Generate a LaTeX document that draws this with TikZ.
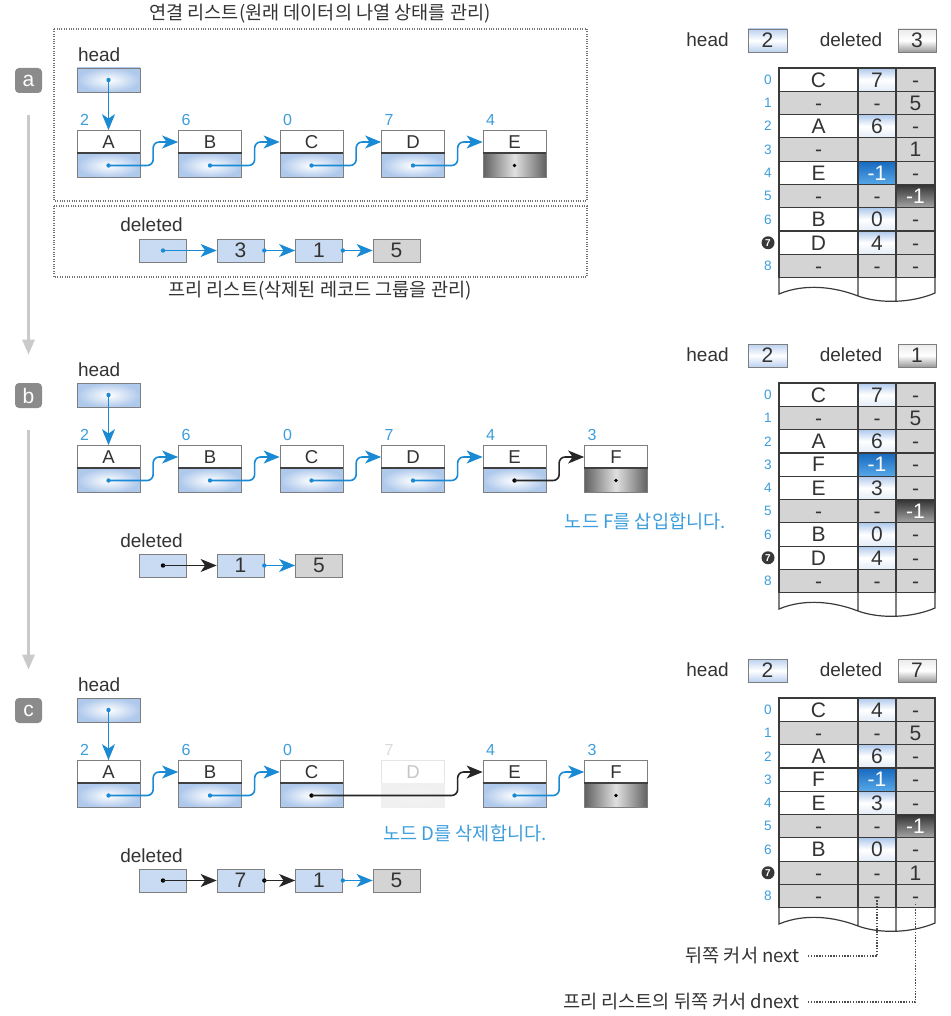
\documentclass[tikz,border=0pt]{standalone}
\usepackage{fontspec}
\setmainfont{Liberation Sans}
\newfontfamily\krfont{Noto Sans CJK KR}
\usetikzlibrary{calc,arrows.meta}

\definecolor{linkblue}{HTML}{1A8AD4}
\definecolor{idxblue}{HTML}{3C9DDC}
\definecolor{edgegray}{HTML}{7E7E7E}
\definecolor{cellgray}{HTML}{D4D4D4}
\definecolor{ptrblue}{HTML}{AFC9EC}
\definecolor{listblue}{HTML}{C9DBF2}
\definecolor{flowgray}{HTML}{CACACA}
\definecolor{tabline}{HTML}{3A3A3A}
\definecolor{hotblue}{HTML}{1769BF}
\definecolor{hotblue2}{HTML}{56A8E8}
\definecolor{lblgray}{HTML}{8B8B8B}

\tikzset{
  steplabel/.style={fill=lblgray,rounded corners=2pt,minimum width=13.5pt,minimum height=12.5pt,inner sep=0pt,text=white,font=\fontsize{10.5}{10.5}\selectfont},
  stepflow/.style={draw=flowgray,line width=1.5pt,-{Triangle[length=7.5pt,width=6pt]},shorten <=11pt,shorten >=14pt},
  frame/.style={draw=black!55,line width=.6pt,dash pattern=on .5pt off .7pt},
  krtext/.style={font=\krfont\fontsize{9.3}{10}\selectfont,inner sep=0pt,text=black!80},
  bluetext/.style={krtext,text=idxblue},
  lbl/.style={inner sep=0pt,text=black!80,font=\fontsize{9.5}{10}\selectfont},
  idx/.style={inner sep=0pt,anchor=south west,text=idxblue,font=\fontsize{8}{8}\selectfont},
  datacell/.style={draw=edgegray,fill=white,minimum width=31.5pt,minimum height=11.5pt,inner sep=0pt,text=black!80,font=\fontsize{9.3}{9.3}\selectfont},
  ptrcell/.style={draw=edgegray,inner color=white,outer color=ptrblue,minimum width=31.5pt,minimum height=12pt,inner sep=0pt},
  endcell/.style={draw=edgegray,left color=black!62,right color=black!62,middle color=black!12,minimum width=31.5pt,minimum height=12pt,inner sep=0pt},
  ghostcell/.style={datacell,draw=black!10,text=black!22},
  ghostptr/.style={ptrcell,draw=black!6,inner color=black!5,outer color=black!6},
  divider/.style={draw=black!75,line width=.7pt},
  link/.style={draw=linkblue,line width=.8pt,rounded corners=3pt,-{Stealth[length=8pt,width=6.5pt,inset=2.2pt]}},
  newlink/.style={link,draw=black!85},
  delbox/.style={draw=edgegray,fill=listblue,minimum width=23.5pt,minimum height=11.5pt,inner sep=0pt,text=black!80,font=\fontsize{10.5}{10.5}\selectfont},
  delend/.style={delbox,fill=cellgray},
  hdhead/.style={delbox,minimum width=19.5pt,top color=ptrblue!85,bottom color=ptrblue!85,middle color=white},
  hddel/.style={delbox,minimum width=19pt,top color=black!8,bottom color=black!40,middle color=white},
  tcell/.style={draw=tabline,line width=.6pt,minimum height=11.65pt,inner sep=0pt,text height=7.4pt,text depth=0pt,text=black!80,font=\fontsize{10.5}{10.5}\selectfont},
  col0/.style={tcell,minimum width=39.5pt},
  col1/.style={tcell,minimum width=19pt},
  col2/.style={tcell,minimum width=19.5pt},
  nmu/.style={fill=white}, nme/.style={fill=white},
  nmd/.style={fill=cellgray}, nmf/.style={fill=cellgray},
  nxu/.style={top color=ptrblue,bottom color=ptrblue!35,middle color=white},
  nxe/.style={top color=hotblue,bottom color=hotblue2,text=white},
  nxd/.style={fill=cellgray}, nxf/.style={fill=cellgray},
  dnu/.style={fill=cellgray}, dne/.style={fill=cellgray}, dnd/.style={fill=cellgray},
  dnf/.style={top color=black!80,bottom color=black!35,text=white},
  rowno/.style={inner sep=0pt,text=idxblue,font=\fontsize{6.8}{6.8}\selectfont},
  rowmark/.style={circle,fill=black!78,inner sep=0pt,minimum size=6.5pt,text=white,font=\bfseries\fontsize{5}{5}\selectfont},
  note/.style={draw=black!70,line width=.9pt,dash pattern=on .7pt off .7pt}
}

\begin{document}
\begin{tikzpicture}[x=0.5pt,y=-0.5pt,line width=.35pt]
\useasboundingbox (0,0) rectangle (950,1016);

% step marks
\node[steplabel] (alabel) at (28.5,80.5) {a};
\node[steplabel] (blabel) at (28.5,395.5) {b};
\node[steplabel] (clabel) at (28.5,710.5) {c};
\draw[stepflow] (alabel) -- (blabel);
\draw[stepflow] (blabel) -- (clabel);

% ---------- a
\begin{scope}
\draw[frame] (54,29) rectangle (587,201);
\draw[frame] (54,206) rectangle (587,277);
\node[krtext] (atitle) at (320,14) {연결 리스트(원래 데이터의 나열 상태를 관리)};
\node[krtext] (afoot) at (320,291) {프리 리스트(삭제된 레코드 그룹을 관리)};
\node[ptrcell] (ahead) at (108.5,80) {};
\node[lbl,anchor=base west] at ($(ahead.north west)+(1,-6)$) {head};
\foreach \n/\x/\i in {A/108.5/2,B/210/6,C/311.5/0,D/413/7,E/514.5/4}{
  \node[datacell] (a\n) at (\x,142) {\n};
  \node[idx] at ($(a\n.north west)+(3,-4)$) {\i};
}
\foreach \n in {A,B,C,D} \node[ptrcell] (a\n p) at ($(a\n)+(0,23.5)$) {};
\node[endcell] (aEp) at ($(aE)+(0,23.5)$) {};
\foreach \n in {A,B,C,D,E} \draw[divider] (a\n p.north west) -- (a\n p.north east);
\fill[linkblue] (ahead) circle (1.1pt);
\draw[link] (ahead.center) -- (aA.north);
\foreach \s/\t in {A/B,B/C,C/D,D/E}{
  \fill[linkblue] (a\s p) circle (1.1pt);
  \draw[link] (a\s p.center) -| ($(a\t.west)+(-25,0)$) -- (a\t.west);
}
\fill[black] (aEp) circle (.9pt);
% free list
\node[lbl,anchor=base west] at (120,232) {deleted};
\node[delbox] (adel) at (163,250.5) {};
\foreach \n/\x in {3/240.5,1/319} \node[delbox] (ad\n) at (\x,250.5) {\n};
\node[delend] (ad5) at (396.5,250.5) {5};
\fill[linkblue] (adel) circle (1.1pt);
\draw[link] (adel.center) -- (ad3.west);
\foreach \s/\t in {3/1,1/5}{
  \fill[linkblue] (ad\s.east) circle (1.1pt);
  \draw[link] (ad\s.east) -- (ad\t.west);
}
% table
\node[lbl] at (707.5,40) {head};
\node[hdhead] (athead) at (767.5,40.5) {2};
\node[lbl] at (851,40) {deleted};
\node[hddel] (atdel) at (917,40.5) {3};
\foreach \r/\nm/\nx/\dn/\k in {0/C/7/-/u,1/-/-/5/d,2/A/6/-/u,3/-//1/d,4/E/-1/-/e,5/-/-/-1/f,6/B/0/-/u,7/D/4/-/u,8/-/-/-/d}{
  \node[col0,nm\k] (a\r nm) at (818.5,{79.65+23.3*\r}) {\nm};
  \node[col1,nx\k] (a\r nx) at (877,{79.65+23.3*\r}) {\nx};
  \node[col2,dn\k] (a\r dn) at (915.5,{79.65+23.3*\r}) {\dn};
}
\foreach \r in {0,...,6,8} \node[rowno] at (768,{79.65+23.3*\r}) {\r};
\node[rowmark] at (768,{79.65+23.3*7}) {7};
\draw[tabline,line width=.6pt] (779,277.7) -- (779,294) .. controls (805,283) and (835,287) .. (858,296) .. controls (880,304) and (912,303) .. (935,293) -- (935,277.7) (858,277.7) -- (858,296) (896,277.7) -- (896,301.5);
\end{scope}

% ---------- b
\begin{scope}[shift={(0,315)}]
\node[ptrcell] (bhead) at (108.5,80) {};
\node[lbl,anchor=base west] at ($(bhead.north west)+(1,-6)$) {head};
\foreach \n/\x/\i in {A/108.5/2,B/210/6,C/311.5/0,D/413/7,E/514.5/4,F/616/3}{
  \node[datacell] (b\n) at (\x,142) {\n};
  \node[idx] at ($(b\n.north west)+(3,-4)$) {\i};
}
\foreach \n in {A,B,C,D,E} \node[ptrcell] (b\n p) at ($(b\n)+(0,23.5)$) {};
\node[endcell] (bFp) at ($(bF)+(0,23.5)$) {};
\foreach \n in {A,B,C,D,E,F} \draw[divider] (b\n p.north west) -- (b\n p.north east);
\fill[linkblue] (bhead) circle (1.1pt);
\draw[link] (bhead.center) -- (bA.north);
\foreach \s/\t in {A/B,B/C,C/D,D/E}{
  \fill[linkblue] (b\s p) circle (1.1pt);
  \draw[link] (b\s p.center) -| ($(b\t.west)+(-25,0)$) -- (b\t.west);
}
\fill[black] (bEp) circle (1.1pt);
\draw[newlink] (bEp.center) -| ($(bF.west)+(-25,0)$) -- (bF.west);
\fill[black] (bFp) circle (.9pt);
\node[bluetext,anchor=east] (bnote) at (726,206) {노드 F를 삽입합니다.};
% free list
\node[lbl,anchor=base west] at (120,232) {deleted};
\node[delbox] (bdel) at (163,250.5) {};
\node[delbox] (bd1) at (240.5,250.5) {1};
\node[delend] (bd5) at (319,250.5) {5};
\fill[black] (bdel) circle (1.1pt);
\draw[newlink] (bdel.center) -- (bd1.west);
\fill[linkblue] (bd1.east) circle (1.1pt);
\draw[link] (bd1.east) -- (bd5.west);
% table
\node[lbl] at (707.5,40) {head};
\node[hdhead] (bthead) at (767.5,40.5) {2};
\node[lbl] at (851,40) {deleted};
\node[hddel] (btdel) at (917,40.5) {1};
\foreach \r/\nm/\nx/\dn/\k in {0/C/7/-/u,1/-/-/5/d,2/A/6/-/u,3/F/-1/-/e,4/E/3/-/u,5/-/-/-1/f,6/B/0/-/u,7/D/4/-/u,8/-/-/-/d}{
  \node[col0,nm\k] (b\r nm) at (818.5,{79.65+23.3*\r}) {\nm};
  \node[col1,nx\k] (b\r nx) at (877,{79.65+23.3*\r}) {\nx};
  \node[col2,dn\k] (b\r dn) at (915.5,{79.65+23.3*\r}) {\dn};
}
\foreach \r in {0,...,6,8} \node[rowno] at (768,{79.65+23.3*\r}) {\r};
\node[rowmark] at (768,{79.65+23.3*7}) {7};
\draw[tabline,line width=.6pt] (779,277.7) -- (779,294) .. controls (805,283) and (835,287) .. (858,296) .. controls (880,304) and (912,303) .. (935,293) -- (935,277.7) (858,277.7) -- (858,296) (896,277.7) -- (896,301.5);
\end{scope}

% ---------- c
\begin{scope}[shift={(0,630)}]
\node[ptrcell] (chead) at (108.5,80) {};
\node[lbl,anchor=base west] at ($(chead.north west)+(1,-6)$) {head};
\foreach \n/\x/\i in {A/108.5/2,B/210/6,C/311.5/0,E/514.5/4,F/616/3}{
  \node[datacell] (c\n) at (\x,142) {\n};
  \node[idx] at ($(c\n.north west)+(3,-4)$) {\i};
}
\node[ghostcell] (cD) at (413,142) {D};
\node[ghostptr] (cDp) at ($(cD)+(0,23.5)$) {};
\node[idx,text=black!15] at ($(cD.north west)+(3,-4)$) {7};
\foreach \n in {A,B,C,E} \node[ptrcell] (c\n p) at ($(c\n)+(0,23.5)$) {};
\node[endcell] (cFp) at ($(cF)+(0,23.5)$) {};
\foreach \n in {A,B,C,E,F} \draw[divider] (c\n p.north west) -- (c\n p.north east);
\fill[linkblue] (chead) circle (1.1pt);
\draw[link] (chead.center) -- (cA.north);
\foreach \s/\t in {A/B,B/C,E/F}{
  \fill[linkblue] (c\s p) circle (1.1pt);
  \draw[link] (c\s p.center) -| ($(c\t.west)+(-25,0)$) -- (c\t.west);
}
\fill[black] (cCp) circle (1.1pt);
\draw[newlink] (cCp.center) -| ($(cE.west)+(-25,0)$) -- (cE.west);
\fill[black] (cFp) circle (.9pt);
\node[bluetext,anchor=west] (cnote) at (383,203) {노드 D를 삭제합니다.};
% free list
\node[lbl,anchor=base west] at (120,232) {deleted};
\node[delbox] (cdel) at (163,250.5) {};
\foreach \n/\x in {7/240.5,1/319} \node[delbox] (cd\n) at (\x,250.5) {\n};
\node[delend] (cd5) at (396.5,250.5) {5};
\fill[black] (cdel) circle (1.1pt);
\draw[newlink] (cdel.center) -- (cd7.west);
\fill[black] (cd7.east) circle (1.1pt);
\draw[newlink] (cd7.east) -- (cd1.west);
\fill[linkblue] (cd1.east) circle (1.1pt);
\draw[link] (cd1.east) -- (cd5.west);
% table
\node[lbl] at (707.5,40) {head};
\node[hdhead] (cthead) at (767.5,40.5) {2};
\node[lbl] at (851,40) {deleted};
\node[hddel] (ctdel) at (917,40.5) {7};
\foreach \r/\nm/\nx/\dn/\k in {0/C/4/-/u,1/-/-/5/d,2/A/6/-/u,3/F/-1/-/e,4/E/3/-/u,5/-/-/-1/f,6/B/0/-/u,7/-/-/1/d,8/-/-/-/d}{
  \node[col0,nm\k] (c\r nm) at (818.5,{79.65+23.3*\r}) {\nm};
  \node[col1,nx\k] (c\r nx) at (877,{79.65+23.3*\r}) {\nx};
  \node[col2,dn\k] (c\r dn) at (915.5,{79.65+23.3*\r}) {\dn};
}
\foreach \r in {0,...,6,8} \node[rowno] at (768,{79.65+23.3*\r}) {\r};
\node[rowmark] at (768,{79.65+23.3*7}) {7};
\draw[tabline,line width=.6pt] (779,277.7) -- (779,294) .. controls (805,283) and (835,287) .. (858,296) .. controls (880,304) and (912,303) .. (935,293) -- (935,277.7) (858,277.7) -- (858,296) (896,277.7) -- (896,301.5);
\end{scope}

% cursor notes
\node[krtext,anchor=east] (nxnote) at (800,956) {뒤쪽 커서 next};
\node[krtext,anchor=east] (dnnote) at (800,1002) {프리 리스트의 뒤쪽 커서 dnext};
\draw[note] ($(nxnote.east)+(8,0)$) -| ($(c8nx.south)+(0,-8)$);
\draw[note] ($(dnnote.east)+(8,0)$) -| ($(c8dn.south)+(0,-6)$);
\end{tikzpicture}
\end{document}
